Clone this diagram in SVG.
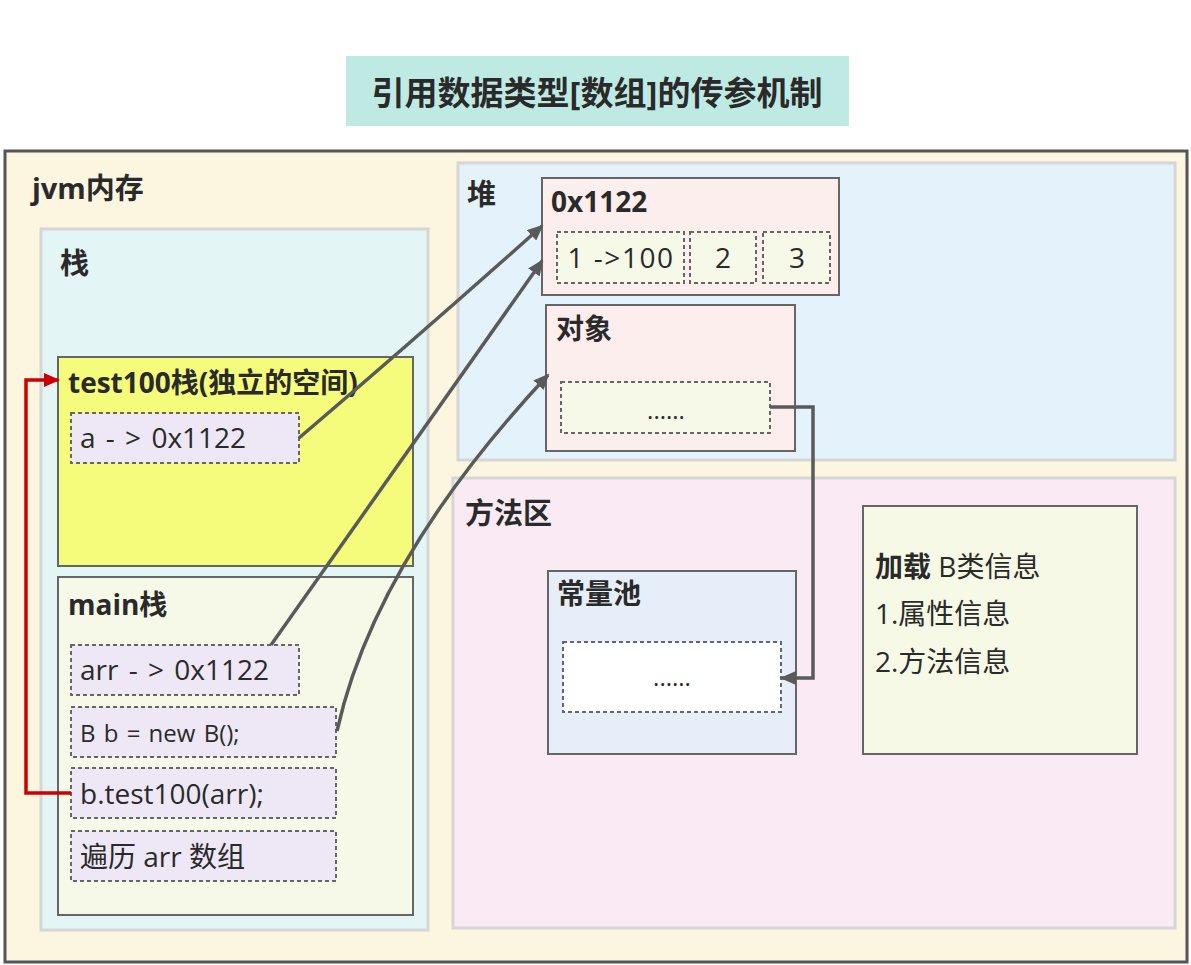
<svg xmlns="http://www.w3.org/2000/svg" width="1191" height="965" viewBox="0 0 1191 965">
<style>
text{font-family:"Open Sans","Noto Sans CJK SC",sans-serif;fill:#2a2a2a;font-size:28px}
.b{font-weight:bold}
.h{font-size:29px}
.area{stroke:#d6d6d6;stroke-width:3}
.box{stroke:#666;stroke-width:2}
.dash{stroke:#666;stroke-width:2;stroke-dasharray:4 3}
.item{fill:#ede7f6}
.cell{fill:#f6f9e7}
.conn{fill:none;stroke:#5a5a5a;stroke-width:3.5}
.red{fill:none;stroke:#cc0000;stroke-width:3.5}
</style>
<defs>
<marker id="ag" markerUnits="userSpaceOnUse" markerWidth="16" markerHeight="14" refX="14" refY="7" orient="auto"><path d="M0,0 L16,7 L0,14 z" fill="#5a5a5a"/></marker>
<marker id="ar" markerUnits="userSpaceOnUse" markerWidth="16" markerHeight="14" refX="14" refY="7" orient="auto"><path d="M0,0 L16,7 L0,14 z" fill="#cc0000"/></marker>
</defs>
<rect width="1191" height="965" fill="#fff"/>
<g id="title">
<rect x="346" y="56" width="503" height="70" fill="#bfeae3"/>
<text x="597" y="105" text-anchor="middle" class="b" style="font-size:33px">引用数据类型[数组]的传参机制</text>
</g>
<g id="jvm">
<rect x="5" y="151" width="1182" height="811" fill="#fcf5e0" stroke="#555" stroke-width="3"/>
<text x="32" y="199" class="b h">jvm内存</text>
</g>
<g id="stack">
<rect x="41" y="229" width="387" height="701" fill="#e3f5f5" class="area"/>
<text x="60" y="274" class="b h">栈</text>
</g>
<g id="test100">
<rect x="58" y="357" width="355" height="209" fill="#f5fb7a" class="box"/>
<text x="68" y="393" class="b">test100栈(独立的空间)</text>
</g>
<g id="a">
<rect x="71" y="413" width="228" height="50" class="item dash"/>
<text x="80" y="448" word-spacing="3">a - &gt; 0x1122</text>
</g>
<g id="main">
<rect x="58" y="577" width="355" height="338" fill="#f7f9e8" class="box"/>
<text x="68" y="615" class="b">main栈</text>
</g>
<g id="arr">
<rect x="71" y="645" width="228" height="50" class="item dash"/>
<text x="80" y="680" word-spacing="3">arr - &gt; 0x1122</text>
</g>
<g id="newb">
<rect x="71" y="707" width="265" height="50" class="item dash"/>
<text x="80" y="742" style="font-size:24px" word-spacing="2">B b = new B();</text>
</g>
<g id="call">
<rect x="71" y="768" width="265" height="50" class="item dash"/>
<text x="80" y="804">b.test100(arr);</text>
</g>
<g id="loop">
<rect x="71" y="831" width="265" height="50" class="item dash"/>
<text x="80" y="867">遍历 arr 数组</text>
</g>
<g id="heap">
<rect x="458" y="163" width="717" height="297" fill="#e4f3fb" class="area"/>
<text x="467" y="205" class="b h">堆</text>
</g>
<g id="array">
<rect x="542" y="178" width="297" height="117" fill="#fdeeee" class="box"/>
<text x="551" y="212" class="b">0x1122</text>
<rect x="557" y="232" width="127" height="51" class="cell dash"/>
<text x="621" y="268" text-anchor="middle" letter-spacing="1.5">1 -&gt;100</text>
<rect x="690" y="232" width="66" height="51" class="cell dash"/>
<text x="723" y="268" text-anchor="middle">2</text>
<rect x="763" y="232" width="67" height="51" class="cell dash"/>
<text x="797" y="268" text-anchor="middle">3</text>
</g>
<g id="object">
<rect x="546" y="305" width="249" height="146" fill="#fdeeee" class="box"/>
<text x="556" y="339" class="b">对象</text>
<rect x="561" y="382" width="209" height="51" class="cell dash"/>
<text x="666" y="419" text-anchor="middle" style="font-size:24px">......</text>
</g>
<g id="method">
<rect x="453" y="478" width="722" height="450" fill="#f9eaf4" class="area"/>
<text x="465" y="524" class="b h">方法区</text>
</g>
<g id="pool">
<rect x="548" y="571" width="248" height="183" fill="#e6eefa" class="box"/>
<text x="557" y="604" class="b">常量池</text>
<rect x="563" y="642" width="218" height="70" fill="#fff" class="dash"/>
<text x="672" y="686" text-anchor="middle" style="font-size:24px">......</text>
</g>
<g id="classinfo">
<rect x="863" y="506" width="274" height="248" fill="#f6f9e6" class="box"/>
<text x="875" y="577"><tspan class="b">加载</tspan> B类信息</text>
<text x="875" y="624">1.属性信息</text>
<text x="875" y="672">2.方法信息</text>
</g>
<g id="connectors">
<path class="conn" d="M299,438 Q420,335 542,226" marker-end="url(#ag)"/>
<path class="conn" d="M271,645 L542,261" marker-end="url(#ag)"/>
<path class="conn" d="M337,731 Q375,560 548,375" marker-end="url(#ag)"/>
<path class="conn" d="M770,407 L813,407 L813,678 L782,678" marker-end="url(#ag)"/>
<path class="red" d="M71,793 L26,793 L26,380 L58,380" marker-end="url(#ar)"/>
</g>
</svg>
